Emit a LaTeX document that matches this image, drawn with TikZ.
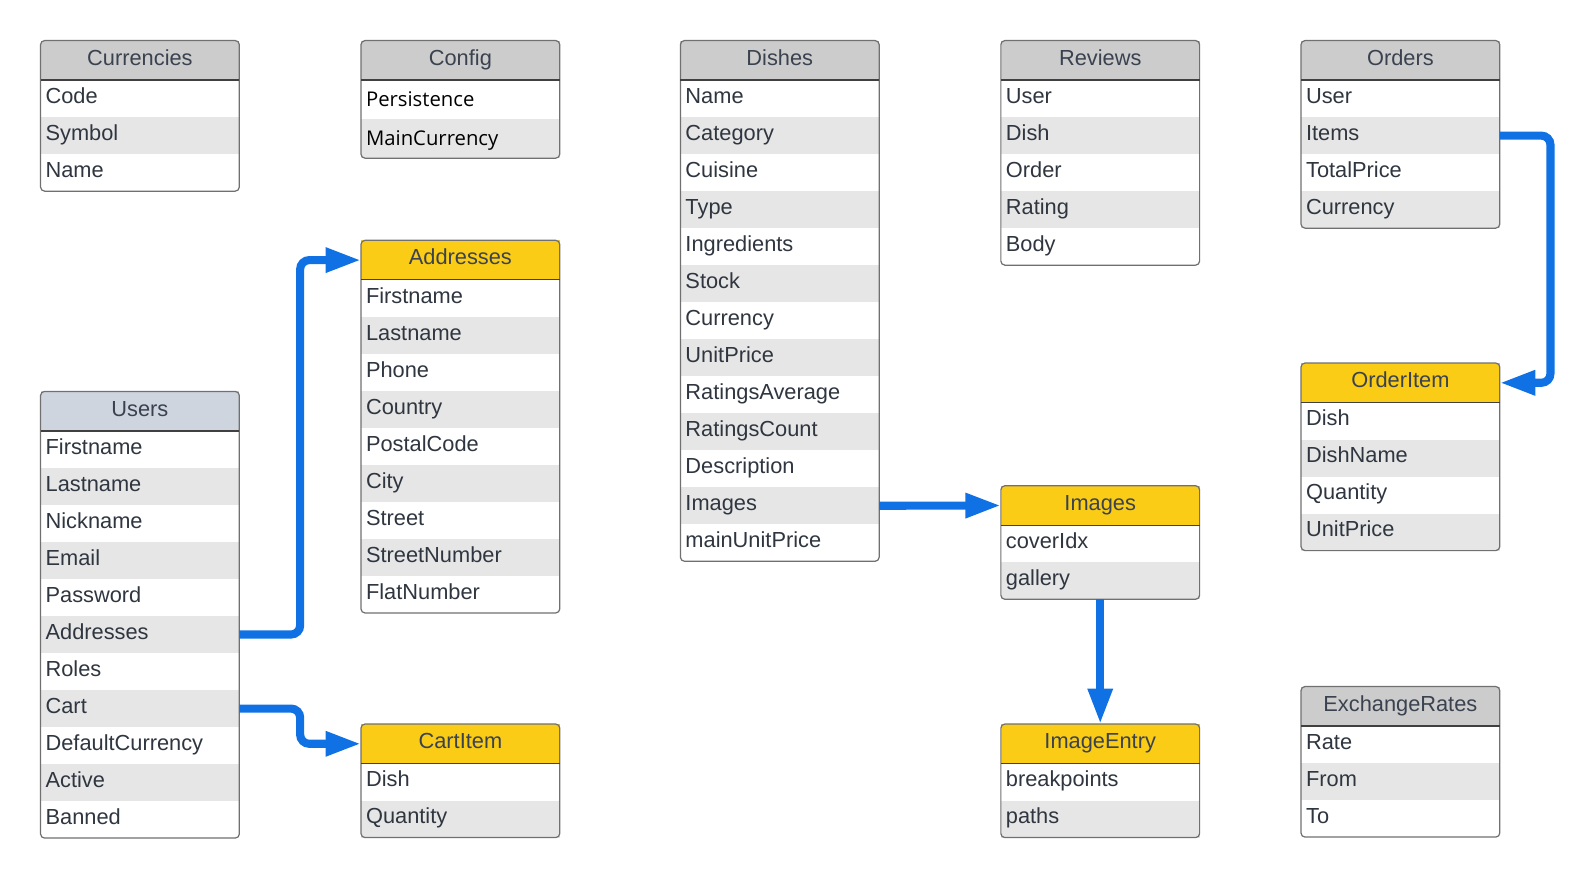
\documentclass[tikz,border=0pt]{standalone}
\usepackage{fontspec}
\setmainfont{Liberation Sans}
\newfontfamily\cfgfont{Open Sans}
\usepackage{tikz}
\usetikzlibrary{positioning,arrows.meta}

\definecolor{headgray}{RGB}{204,204,204}
\definecolor{usershead}{RGB}{206,213,223}
\definecolor{yellowhead}{RGB}{250,204,21}
\definecolor{rowgray}{RGB}{230,230,230}
\definecolor{framegray}{RGB}{112,112,112}
\definecolor{headtxt}{RGB}{58,66,80}
\definecolor{rowtxt}{RGB}{47,54,64}
\definecolor{linkblue}{RGB}{16,113,229}

\newcommand{\tblfont}{\fontsize{21.5}{24}\selectfont}
\newcommand{\cfgtext}{\cfgfont\fontsize{20}{24}\selectfont}

\tikzset{
  tbl head/.style={text=headtxt, font=\tblfont, minimum width=196pt, minimum height=39pt,
    inner sep=0pt, outer sep=0pt, text height=15.5pt, text depth=6pt, anchor=north west},
  tbl row/.style={text=rowtxt, font=\tblfont, minimum width=196pt, minimum height=36.5pt,
    text width=186pt, align=left, inner xsep=5pt, inner ysep=0pt, outer sep=0pt,
    text height=15.5pt, text depth=6pt},
  cfg row/.style={text=black, font=\cfgtext, minimum height=38.5pt, text height=15pt, text depth=1pt},
  frame/.style={draw=framegray, line width=1.2pt, rounded corners=4pt},
  sepline/.style={draw=black!75, line width=1.2pt},
  link/.style={draw=linkblue, line width=8pt, rounded corners=9pt, -{Triangle[length=35pt, width=23pt]}}
}

% table: [row options]{name}{top left}{title}{header fill}{fields}
\newcommand{\dbtable}[6][]{%
  \node[tbl head, fill=#5, alias=#2-0] (#2) at (#3) {#4};
  \foreach \f [count=\i, remember=\i as \j (initially 0)] in {#6} {
    \pgfmathtruncatemacro{\odd}{mod(\i,2)}
    \ifnum\odd=1 \def\rowfill{white}\else\def\rowfill{rowgray}\fi
    \node[tbl row, fill=\rowfill, below=0pt of #2-\j, #1] (#2-\i) {\f};
    \global\let\lastrow\i
  }
  \draw[frame] (#2.north west) rectangle (#2-\lastrow.south east);
  \draw[sepline] (#2.south west) -- (#2.south east);
}

\begin{document}
\begin{tikzpicture}[x=1pt, y=-1pt]
  \useasboundingbox (0,0) rectangle (1568,866);

  \dbtable{currencies}{40,40}{Currencies}{headgray}{Code,Symbol,Name}
  \dbtable[cfg row]{config}{356,40}{Config}{headgray}{Persistence,MainCurrency}
  \dbtable{dishes}{671,40}{Dishes}{headgray}{Name,Category,Cuisine,Type,Ingredients,Stock,Currency,UnitPrice,RatingsAverage,RatingsCount,Description,Images,mainUnitPrice}
  \dbtable{reviews}{987,40}{Reviews}{headgray}{User,Dish,Order,Rating,Body}
  \dbtable{orders}{1283,40}{Orders}{headgray}{User,Items,TotalPrice,Currency}
  \dbtable{addresses}{356,237}{Addresses}{yellowhead}{Firstname,Lastname,Phone,Country,PostalCode,City,Street,StreetNumber,FlatNumber}
  \dbtable{users}{40,386}{Users}{usershead}{Firstname,Lastname,Nickname,Email,Password,Addresses,Roles,Cart,DefaultCurrency,Active,Banned}
  \dbtable{cartitem}{356,714}{CartItem}{yellowhead}{Dish,Quantity}
  \dbtable{orderitem}{1283,358}{OrderItem}{yellowhead}{Dish,DishName,Quantity,UnitPrice}
  \dbtable{images}{987,479}{Images}{yellowhead}{coverIdx,gallery}
  \dbtable{imageentry}{987,714}{ImageEntry}{yellowhead}{breakpoints,paths}
  \dbtable{exchangerates}{1283,677}{ExchangeRates}{headgray}{Rate,From,To}

  \draw[link] (users-6.east) -- ++(60,0) |- (addresses.west);
  \draw[link] (users-8.east) -- ++(60,0) |- (cartitem.west);
  \draw[link] (dishes-12.east) -- (images.west);
  \draw[link] (images-2.south) -- (imageentry.north);
  \draw[link] (orders-2.east) -- ++(50,0) |- (orderitem.east);
\end{tikzpicture}
\end{document}
